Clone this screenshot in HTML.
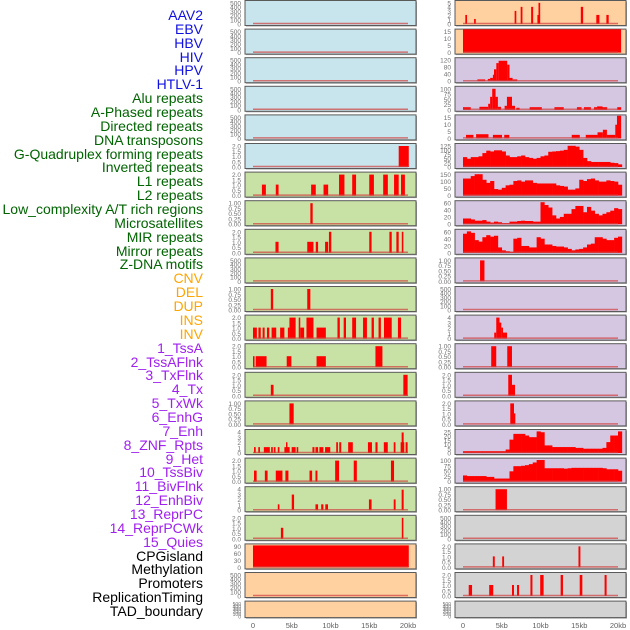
<!DOCTYPE html>
<html><head><meta charset="utf-8">
<style>
html,body{margin:0;padding:0;background:#fff;}
body{width:630px;height:630px;overflow:hidden;position:relative;font-family:"Liberation Sans",sans-serif;}
.lbl{position:absolute;right:427px;font-size:14px;line-height:14px;white-space:nowrap;}
svg{position:absolute;left:0;top:0;}
</style></head>
<body>
<div id="labels"></div>
<svg id="chart" width="630" height="630"></svg>
<script>
const trackLabels = ["AAV2","EBV","HBV","HIV","HPV","HTLV-1","Alu repeats","A-Phased repeats","Directed repeats","DNA transposons","G-Quadruplex forming repeats","Inverted repeats","L1 repeats","L2 repeats","Low_complexity A/T rich regions","Microsatellites","MIR repeats","Mirror repeats","Z-DNA motifs","CNV","DEL","DUP","INS","INV","1_TssA","2_TssAFlnk","3_TxFlnk","4_Tx","5_TxWk","6_EnhG","7_Enh","8_ZNF_Rpts","9_Het","10_TssBiv","11_BivFlnk","12_EnhBiv","13_ReprPC","14_ReprPCWk","15_Quies","CPGisland","Methylation","Promoters","ReplicationTiming","TAD_boundary"];
const labelGroups = [6,13,5,15,5];
const groupColors = ["#1010e0","#006400","#ffa500","#a020f0","#000000"];
const xTickLabels = ["0","5kb","10kb","15kb","20kb"];
const xTickValues = [0,5,10,15,20];

// backgrounds per row
const leftBg  = ["b","b","b","b","b","b","g","g","g","g","g","g","g","g","g","g","g","g","g","o","o","o"];
const rightBg = ["o","o","p","p","p","p","p","p","p","p","p","p","p","p","p","p","p","g2","g2","g2","g2","g2"];
// y domain max per row
const leftMax  = [500,500,500,500,500,2.1,2.1,1.05,2.1,500,1.05,2.1,2.1,2.1,1.05,4.3,2.1,4.3,2.1,100,500,500];
const rightMax = [5.2,16,135,105,16.5,130,170,67,72,1.05,500,4.2,1.05,2.1,2.1,25.5,102,1.05,500,2.1,2.1,500];
// y tick labels per row
const leftTicks  = ["0,100,200,300,400,500","0,100,200,300,400,500","0,100,200,300,400,500","0,100,200,300,400,500","0,100,200,300,400,500","0.0,0.5,1.0,1.5,2.0","0.0,0.5,1.0,1.5,2.0","0.00,0.25,0.50,0.75,1.00","0.0,0.5,1.0,1.5,2.0","0,100,200,300,400,500","0.00,0.25,0.50,0.75,1.00","0.0,0.5,1.0,1.5,2.0","0.0,0.5,1.0,1.5,2.0","0.0,0.5,1.0,1.5,2.0","0.00,0.25,0.50,0.75,1.00","0,1,2,3,4","0.0,0.5,1.0,1.5,2.0","0,1,2,3,4","0.0,0.5,1.0,1.5,2.0","0,30,60,90","0,100,200,300,400,500","0,100,200,300,400,500"];
const rightTicks = ["0,1,2,3,4,5","0,5,10,15","0,40,80,120","0,25,50,75,100","0,5,10,15","0,25,50,75,100,125","0,50,100,150","0,20,40,60","0,20,40,60","0.00,0.25,0.50,0.75,1.00","0,100,200,300,400,500","0,1,2,3,4","0.00,0.25,0.50,0.75,1.00","0.0,0.5,1.0,1.5,2.0","0.0,0.5,1.0,1.5,2.0","0,5,10,15,20,25","0,25,50,75,100","0.00,0.25,0.50,0.75,1.00","0,100,200,300,400,500","0.0,0.5,1.0,1.5,2.0","0.0,0.5,1.0,1.5,2.0","0,100,200,300,400,500"];

// segment data [startKb, endKb, value]
const L5 = [[18.8,20.1,2]];
const L6 = [[1.15,1.66,1],[2.94,3.3,1],[7.5,8.1,1],[9.1,9.7,1],[11.1,11.8,2],[12.8,13.3,2],[15.0,15.6,2],[16.8,17.4,2],[18.2,18.8,2],[19.1,19.6,2]];
const L7 = [[7.4,7.7,1]];
const L8 = [[2.9,3.3,1],[7.0,7.8,1],[8.1,8.4,1],[9.3,9.7,1],[9.8,10.1,2],[15.0,15.3,2],[17.6,17.9,2],[18.5,18.8,2],[19.2,19.4,2]];
const L10 = [[2.3,2.6,1],[7.0,7.4,1]];
const L11 = [[0,0.5,1],[0.7,1.0,1],[1.24,1.5,1],[1.8,2.1,1],[2.4,3.0,1],[3.5,4.05,1],[4.5,4.7,1],[4.7,5.5,2],[5.9,6.1,2],[6.1,6.6,1],[6.9,7.8,2],[8.2,9.4,1],[10.9,11.2,2],[11.7,12.0,2],[12.8,13.3,2],[14.2,14.7,2],[15.3,15.6,2],[16.2,16.5,2],[16.9,17.9,2],[18.7,19.1,2]];
const L12 = [[0,0.2,1],[0.35,1.75,1],[4.35,4.95,1],[8.2,9.4,1],[15.8,16.7,2]];
const L13 = [[2.3,2.65,1],[19.4,19.95,2]];
const L14 = [[4.7,5.25,1]];
const L15 = [[0.13,0.35,1],[0.68,0.9,1],[1.4,2.17,1],[2.34,2.56,1],[2.69,2.9,1],[3.2,3.41,1],[4.05,4.73,1],[4.26,4.44,2],[4.99,5.5,1],[5.63,5.84,1],[7.67,7.93,1],[8.06,8.4,1],[8.57,9.08,1],[9.3,9.97,1],[10.74,10.96,2],[11.13,11.38,2],[12.28,12.88,2],[14.83,15.35,2],[15.8,16.07,2],[16.88,17.39,2],[18.16,18.38,2],[19.05,19.52,2],[19.18,19.44,4],[19.69,19.95,2]];
const L16 = [[0.13,0.47,1],[1.53,1.88,1],[2.94,3.8,1],[4.18,4.57,1],[7.29,7.63,1],[8.06,8.31,1],[10.6,11.1,2],[13.0,13.4,2],[17.8,18.2,2]];
const L17 = [[3.2,3.41,1],[5.0,5.3,3],[8.06,8.4,1],[8.8,9.08,1],[9.33,9.68,1],[14.96,15.3,2],[18.16,18.4,2],[19.18,19.44,4]];
const L18 = [[3.6,3.9,1],[19.2,19.4,2]];
const L19 = [[0,20.1,100]];

const R0 = [[0.3,0.52,2],[1.43,1.65,1],[6.66,6.88,3],[7.44,7.67,4],[8.79,9.05,4],[9.6,9.87,2],[9.74,9.96,5],[15.2,15.5,4],[17.2,17.6,2],[18.5,18.8,2]];
const R1 = [[0,20.4,17]];
const R2 = [[1.86,2.86,5],[3.2,3.5,8],[3.5,3.86,15],[3.86,4.0,35],[4.0,4.3,70],[4.3,4.6,110],[4.6,5.7,125],[5.7,6.0,100],[6.0,6.4,15],[6.4,7.0,5]];
const R3 = [[0,1.0,8],[2.12,3.25,10],[3.25,3.5,25],[3.5,3.77,60],[3.77,4.2,100],[4.2,4.5,60],[4.5,4.9,10],[5.37,5.67,15],[5.67,6.32,60],[6.32,6.71,15],[6.88,7.3,5],[8.6,10.17,8],[11.8,13.0,8],[14.7,15.3,8],[15.6,16.5,8],[16.9,17.3,8],[17.3,18.0,12],[18.0,18.6,8],[19.9,20.4,8]];
const R4 = [[0.39,1.34,2],[1.69,3.29,2.5],[3.86,5.03,2],[5.32,5.97,2],[14.03,15.07,2],[15.84,17.36,2],[17.36,18.05,4],[18.05,18.57,6],[18.57,19.65,2],[19.65,19.87,10],[19.87,20.4,17]];
const R9 = [[2.2,2.77,1]];
const R11 = [[4.03,4.29,1],[4.29,4.71,4],[4.71,4.94,3],[4.94,5.16,2],[5.16,5.68,1]];
const R12 = [[3.64,4.29,1],[5.71,6.32,1]];
const R13 = [[5.84,6.32,2],[6.32,6.71,1]];
const R14 = [[6.1,6.58,2],[6.58,6.75,1]];
const R17 = [[4.2,5.67,1]];
const R19 = [[3.85,4.1,1],[5.06,5.3,1],[14.9,15.15,2]];
const R20 = [[0.74,1.17,1],[3.38,3.9,1],[6.32,6.58,1],[6.97,7.23,1],[8.7,8.96,2],[9.96,10.4,2],[12.6,12.9,2],[15.06,15.4,2],[18.27,18.53,2]];

// binned profiles (0.5kb bins from 0 to 20.5kb)
const R5 = [55,45,55,55,60,80,95,90,97,97,90,65,55,55,60,65,55,50,45,50,60,65,88,90,92,95,100,125,125,120,100,50,30,25,25,25,25,25,20,18,10];
const R6 = [130,130,150,165,165,120,95,110,45,40,55,75,80,110,115,105,115,115,95,90,90,90,90,90,75,70,65,40,40,50,120,110,125,130,115,105,105,115,110,105,80];
const R7 = [15,15,12,8,8,10,5,2,5,3,0,0,5,5,7,8,7,7,5,5,67,58,50,25,15,20,30,30,45,55,55,35,52,40,30,25,30,35,40,48,45];
const R8 = [62,70,65,40,35,50,57,52,55,15,5,2,0,45,48,20,20,15,15,50,45,25,25,20,18,18,15,10,5,8,10,15,25,28,50,50,45,40,40,48,52];
const R15 = [1,1,1,1,1,1,1,1,1,1,1,3,15,22,22,22,20,18,18,25,24,8,8,6,6,6,6,6,6,5,5,4,4,4,4,4,5,12,20,20,25];
const R16 = [25,22,22,22,22,22,18,18,10,10,10,10,45,70,70,72,75,80,88,100,100,60,60,60,60,60,58,60,62,62,62,62,62,62,62,62,60,55,55,55,48];

const leftData  = {5:L5,6:L6,7:L7,8:L8,10:L10,11:L11,12:L12,13:L13,14:L14,15:L15,16:L16,17:L17,18:L18,19:L19};
const rightData = {0:R0,1:R1,2:R2,3:R3,4:R4,9:R9,11:R11,12:R12,13:R13,14:R14,17:R17,19:R19,20:R20};
const rightProfiles = {5:R5,6:R6,7:R7,8:R8,15:R15,16:R16};

const bgColors = {b:"#c8e4ec",g:"#c8e1a5",o:"#ffd0a0",p:"#d5c6e2",g2:"#d3d3d3"};
const NS = "http://www.w3.org/2000/svg";
const svg = document.getElementById('chart');
function mk(tag, attrs, parent){const e=document.createElementNS(NS,tag);for(const k in attrs)e.setAttribute(k,attrs[k]);(parent||svg).appendChild(e);return e;}

// labels
const labDiv = document.getElementById('labels');
let li=0;
labelGroups.forEach((n,g)=>{for(let k=0;k<n;k++){const d=document.createElement('div');d.className='lbl';d.style.top=(8+li*13.86)+'px';d.style.color=groupColors[g];d.textContent=trackLabels[li];


labDiv.appendChild(d);li++;}});

const colX = [245,455];
const PW = 171;
function xScale(col,kb){return colX[col]+8+kb*7.75;}
function rowTop(r){return 0.5+r*28.6;}
function rowH(r){return r===21?16.5:25;}

function drawPanel(col,r){
  const top=rowTop(r), h=rowH(r), x0=colX[col];
  const bg = col===0?leftBg[r]:rightBg[r];
  const g = mk('g',{});
  
  
  mk('rect',{x:x0+1,y:top+1,width:PW,height:h,fill:'#a0a0a0'},g);
  mk('rect',{x:x0,y:top,width:PW,height:h,fill:bgColors[bg],stroke:'#5a5a5a','stroke-width':1},g);
  const dmax = col===0?leftMax[r]:rightMax[r];
  const yb = top+h-2.5, yt = top+1.5;
  const yS = v => yb - (v/dmax)*(yb-yt);
  // ticks
  const ticks = (col===0?leftTicks[r]:rightTicks[r]).split(',');
  const tmax = parseFloat(ticks[ticks.length-1]);
  const ty0 = top+h-1, ty1 = top+3;
  ticks.forEach((t,i)=>{
    const yy = ty0 - (parseFloat(t)/tmax)*(ty0-ty1);
    const tx = mk('text',{x:x0-4,y:yy+2,'font-size':(h<20?5:6.5),'text-anchor':'end',fill:'#707070','font-family':'Liberation Sans, sans-serif'},g);
    
    
    tx.textContent=t;
  });
  const cp = 'clip'+col+'_'+r;
  const cpEl = mk('clipPath',{id:cp},g); mk('rect',{x:x0,y:top,width:PW,height:h},cpEl);
  const dg = mk('g',{'clip-path':'url(#'+cp+')'},g);
  const segs = col===0?leftData[r]:rightData[r];
  if(segs){segs.forEach(s=>{
    const xa=xScale(col,s[0]), xb=xScale(col,s[1]), y=yS(s[2]);
    const b = mk('rect',{x:xa,y:y,width:Math.max(xb-xa,1.2),height:yb-y+1,fill:'#ff0000'},dg);
    
    
  });}
  const prof = col===1?rightProfiles[r]:null;
  if(prof){prof.forEach((v,i)=>{
    const xa=xScale(col,i*0.5), xb=xScale(col,(i+1)*0.5), y=yS(v);
    const b = mk('rect',{x:xa,y:y,width:xb-xa+0.3,height:yb-y+1,fill:'#ff0000'},dg);
    
    
  });}
  if(r!==21){
    const bl = mk('line',{x1:xScale(col,0),x2:xScale(col,20),y1:yb+0.5,y2:yb+0.5,stroke:'#d04040','stroke-opacity':0.7,'stroke-width':1.5},dg);
    
    
  }
}
for(let r=0;r<22;r++){drawPanel(0,r);drawPanel(1,r);}

[0,1].forEach(col=>{xTickValues.forEach((v,i)=>{
  const t = mk('text',{x:xScale(col,v),y:628,'font-size':7.5,'text-anchor':'middle',fill:'#606060','font-family':'Liberation Sans, sans-serif'});
  
  
  t.textContent=xTickLabels[i];
});});
</script>
</body></html>
